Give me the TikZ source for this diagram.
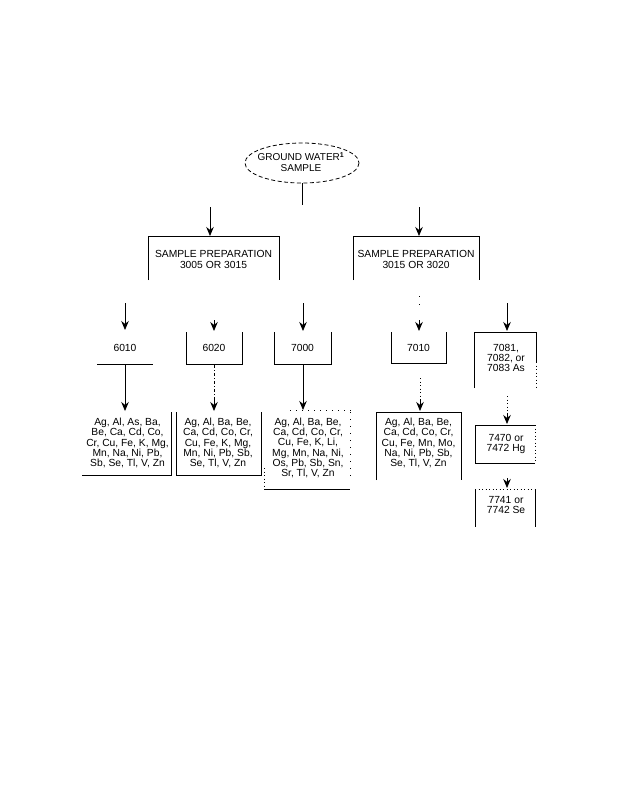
\documentclass[tikz,border=0pt]{standalone}
\usepackage{fontspec}
\setmainfont{Liberation Sans}
\usetikzlibrary{arrows.meta}
\begin{document}
\begin{tikzpicture}[x=1pt,y=-1pt,
  ln/.style={line width=0.8pt},
  arr/.style={ln,-{Stealth[length=9pt,width=7.5pt]}},
  txt/.style={align=center,inner sep=0pt,font=\fontsize{10.3}{10.3}\selectfont},
  dotl/.style={ln,dash pattern=on 1pt off 2.5pt},
  dashdot/.style={ln,dash pattern=on 3pt off 2pt on 1pt off 2pt},
]
\path[use as bounding box] (0,0) rectangle (618,800);

% ground water sample
\draw[ln,dash pattern=on 4pt off 2.5pt] (302,163) ellipse [x radius=57, y radius=20];
\node[txt,font=\fontsize{10}{11}\selectfont] (gw) at (301,162) {GROUND WATER\textsuperscript{\textbf{1}}\\SAMPLE};
\coordinate (gwb) at (302,183);
\coordinate (gwe) at (302,205);
\draw[ln] (gwb) -- (gwe);

% sample preparation boxes
\coordinate (a1s) at (210,207); \coordinate (a1e) at (210,236);
\coordinate (a2s) at (419,207); \coordinate (a2e) at (419,236);
\draw[arr] (a1s) -- (a1e);
\draw[arr] (a2s) -- (a2e);
\draw[ln] (148,280) |- (279,236) -- (279,280);
\draw[ln] (353,280) |- (479,236) -- (479,280);
\node[txt,font=\fontsize{10.3}{11}\selectfont] (sp1) at (213.5,259) {SAMPLE PREPARATION\\3005 OR 3015};
\node[txt,font=\fontsize{10.3}{11}\selectfont] (sp2) at (416,259) {SAMPLE PREPARATION\\3015 OR 3020};

% method boxes
\coordinate (m1s) at (125,303); \coordinate (m1e) at (125,330);
\draw[arr] (m1s) -- (m1e);
\node[txt] (m6010) at (125,348) {6010};
\draw[ln] (97,364) -- (153,364);

\coordinate (m2s) at (214,320); \coordinate (m2e) at (214,331);
\draw[arr] (m2s) -- (m2e);
\draw[ln] (186,332) |- (242,364) -- (242,332);
\node[txt] (m6020) at (214,348) {6020};

\coordinate (m3s) at (303,303); \coordinate (m3e) at (303,331);
\draw[arr] (m3s) -- (m3e);
\draw[ln] (274,332) |- (331,364) -- (331,332);
\node[txt] (m7000) at (302.5,348) {7000};

\draw[dotl,dash pattern=on 1pt off 7pt] (419,296) -- (419,307);
\coordinate (m4s) at (419,320); \coordinate (m4e) at (419,331);
\draw[arr] (m4s) -- (m4e);
\draw[ln] (391,332) |- (446,363) -- (446,332);
\node[txt] (m7010) at (418.5,348) {7010};

\coordinate (m5s) at (507,303); \coordinate (m5e) at (507,331);
\draw[arr] (m5s) -- (m5e);
\draw[ln] (474,388) |- (536,332) -- (536,362);
\draw[dotl] (536,362) -- (536,388);
\node[txt] (m7081) at (506,358) {7081,\\7082, or\\7083 As};

% Hg and Se
\draw[dotl] (507,396) -- (507,413);
\coordinate (h1s) at (507,413); \coordinate (h1e) at (507,424);
\draw[arr] (h1s) -- (h1e);
\draw[ln] (535,463) -- (475,463) -- (475,425) -- (535,425);
\draw[dotl] (535,425) -- (535,463);
\node[txt] (m7470) at (506,444) {7470 or\\7472 Hg};

\coordinate (s1s) at (507,478); \coordinate (s1e) at (507,488);
\draw[arr] (s1s) -- (s1e);
\draw[dotl] (475,489) -- (535,489);
\draw[ln] (475,489) -- (475,527);
\draw[ln] (535,489) -- (535,527);
\node[txt] (m7741) at (506,505) {7741 or\\7742 Se};

% leaf 1
\draw[arr] (125,364) -- (125,411);
\draw[ln] (82,475) -| (171,412);
\node[txt] (l1) at (127.5,443) {Ag, Al, As, Ba,\\Be, Ca, Cd, Co,\\Cr, Cu, Fe, K, Mg,\\Mn, Na, Ni, Pb,\\Sb, Se, Tl, V, Zn};

% leaf 2
\draw[dashdot] (214,365) -- (214,400);
\draw[arr] (214,400) -- (214,411);
\draw[ln] (176,412) |- (261,475) -- (261,412);
\node[txt] (l2) at (218,443) {Ag, Al, Ba, Be,\\Ca, Cd, Co, Cr,\\Cu, Fe, K, Mg,\\Mn, Ni, Pb, Sb,\\Se, Tl, V, Zn};

% leaf 3
\draw[arr] (303,364) -- (303,410);
\draw[dotl,dash pattern=on 1pt off 5pt] (290,410) -- (352,410);
\draw[dotl,dash pattern=on 1pt off 6pt] (350,412) -- (350,478);
\draw[dotl] (264,468) -- (264,489);
\draw[ln] (264,489) -- (350,489);
\node[txt] (l3) at (308,448) {Ag, Al, Ba, Be,\\Ca, Cd, Co, Cr,\\Cu, Fe, K, Li,\\Mg, Mn, Na, Ni,\\Os, Pb, Sb, Sn,\\Sr, Tl, V, Zn};

% leaf 4
\draw[dotl] (420,378) -- (420,400);
\draw[arr] (420,400) -- (420,411);
\draw[ln] (376,480) |- (461,412) -- (461,480);
\node[txt] (l4) at (418.5,443) {Ag, Al, Ba, Be,\\Ca, Cd, Co, Cr,\\Cu, Fe, Mn, Mo,\\Na, Ni, Pb, Sb,\\Se, Tl, V, Zn};
\end{tikzpicture}
\end{document}
